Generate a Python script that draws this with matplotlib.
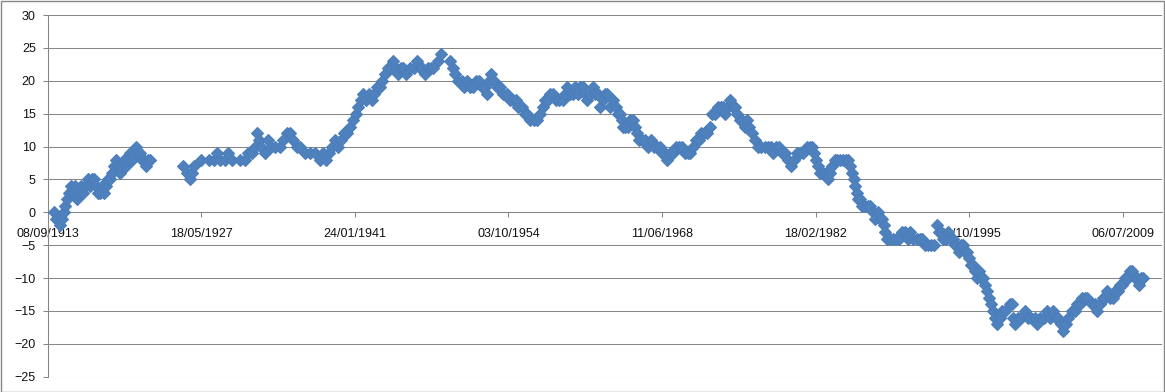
import datetime as dt
import matplotlib
matplotlib.use("Agg")
import matplotlib.pyplot as plt
from matplotlib.patches import Rectangle

# ---- data (decimal year, value) ----
years = [
    1914.26, 1914.43, 1914.61, 1914.79, 1914.97, 1915.15, 1915.24, 1915.42, 1915.59, 1915.77,
    1915.95, 1916.13, 1916.31, 1916.48, 1916.66, 1916.84, 1917.02, 1917.29, 1917.46, 1917.64,
    1917.82, 1918.00, 1918.18, 1918.36, 1918.54, 1918.71, 1918.89, 1919.07, 1919.25, 1919.43,
    1919.60, 1919.78, 1919.96, 1920.14, 1920.32, 1920.50, 1920.67, 1920.85, 1921.03, 1921.21,
    1921.39, 1921.56, 1921.74, 1921.92, 1922.10, 1922.28, 1922.45, 1922.63, 1922.81,
    1925.75, 1926.11, 1926.38, 1926.56, 1926.73, 1927.36, 1928.07, 1928.52, 1928.78, 1929.05,
    1929.50, 1929.77, 1930.12, 1930.83, 1931.28, 1931.55, 1931.90, 1932.17, 1932.35, 1932.52,
    1932.70, 1933.06, 1933.32, 1933.59, 1933.95, 1934.39, 1934.66, 1935.02, 1935.29, 1935.55,
    1935.91, 1936.18, 1936.63, 1937.07, 1937.52, 1937.96, 1938.23, 1938.50, 1938.76, 1939.03,
    1939.30, 1939.57, 1939.84, 1940.10, 1940.37, 1940.64, 1940.90, 1941.17, 1941.35, 1941.62,
    1941.80, 1942.06, 1942.33, 1942.60, 1942.78, 1943.04, 1943.31, 1943.49, 1943.76, 1944.02,
    1944.29, 1944.47, 1944.74, 1944.91, 1945.18, 1945.36, 1945.63, 1945.98, 1946.34, 1946.61,
    1946.87, 1947.05, 1947.32, 1947.59, 1947.86, 1948.04, 1948.48, 1948.75, 1949.55, 1949.82,
    1950.00, 1950.26, 1950.62, 1950.80, 1951.07, 1951.33, 1951.60, 1951.87, 1952.14, 1952.41,
    1952.67, 1952.85, 1953.03, 1953.21, 1953.48, 1953.74, 1954.01, 1954.28, 1954.63, 1954.90,
    1955.17, 1955.44, 1955.61, 1955.97, 1956.24, 1956.42, 1956.68, 1957.04, 1957.31, 1957.57,
    1957.84, 1958.02, 1958.29, 1958.46, 1958.73, 1959.00, 1959.27, 1959.62, 1959.80, 1959.98,
    1960.25, 1960.51, 1960.69, 1960.96, 1961.14, 1961.41, 1961.58, 1961.76, 1962.03, 1962.30,
    1962.47, 1962.74, 1962.92, 1963.19, 1963.37, 1963.54, 1963.81, 1964.08, 1964.35, 1964.52,
    1964.70, 1964.88, 1964.97, 1965.15, 1965.42, 1965.59, 1965.86, 1966.04, 1966.22, 1966.40,
    1966.66, 1966.93, 1967.20, 1967.46, 1967.73, 1968.00, 1968.27, 1968.44, 1968.71, 1968.89,
    1969.16, 1969.43, 1969.69, 1969.96, 1970.23, 1970.50, 1970.76, 1970.94, 1971.21, 1971.48,
    1971.74, 1971.92, 1972.19, 1972.46, 1972.72, 1972.90, 1973.17, 1973.44, 1973.70, 1973.88,
    1974.06, 1974.33, 1974.51, 1974.77, 1974.95, 1975.13, 1975.40, 1975.58, 1975.84, 1976.02,
    1976.20, 1976.47, 1976.73, 1977.00, 1977.27, 1977.63, 1977.89, 1978.16, 1978.34, 1978.61,
    1978.88, 1979.14, 1979.41, 1979.68, 1979.95, 1980.21, 1980.48, 1980.74, 1981.01, 1981.37,
    1981.63, 1981.81, 1981.99, 1982.17, 1982.35, 1982.52, 1982.79, 1983.06, 1983.24, 1983.42,
    1983.60, 1983.86, 1984.04, 1984.31, 1984.58, 1984.84, 1985.02, 1985.20, 1985.38, 1985.55,
    1985.64, 1985.82, 1985.91, 1986.09, 1986.27, 1986.53, 1986.80, 1986.98, 1987.25, 1987.43,
    1987.69, 1987.87, 1988.05, 1988.23, 1988.32, 1988.49, 1988.76, 1989.03, 1989.30, 1989.57,
    1989.83, 1990.10, 1990.37, 1990.55, 1990.81, 1991.17, 1991.44, 1991.61, 1991.88, 1992.15,
    1992.42, 1992.69, 1992.95, 1993.13, 1993.31, 1993.49, 1993.76, 1993.93, 1994.11, 1994.38,
    1994.56, 1994.73, 1994.91, 1995.09, 1995.27, 1995.45, 1995.62, 1995.80, 1995.98, 1996.16,
    1996.34, 1996.51, 1996.69, 1996.87, 1997.05, 1997.23, 1997.41, 1997.58, 1997.76, 1997.94,
    1998.12, 1998.30, 1998.57, 1998.74, 1999.01, 1999.46, 1999.64, 1999.73, 1999.90, 2000.17,
    2000.44, 2000.80, 2001.07, 2001.33, 2001.69, 2001.87, 2002.13, 2002.49, 2002.76, 2003.02,
    2003.29, 2003.56, 2003.74, 2004.01, 2004.19, 2004.45, 2004.63, 2004.99, 2005.25, 2005.43,
    2005.70, 2005.88, 2006.15, 2006.32, 2006.77, 2007.04, 2007.22, 2007.48, 2007.75, 2007.93,
    2008.11, 2008.37, 2008.64, 2008.82, 2009.09, 2009.27, 2009.44, 2009.71, 2009.98, 2010.16,
    2010.34, 2010.61, 2010.78, 2010.96, 2011.14, 2011.32,
]
values = [
    0, -1, -1, -2, -1, 0, 1, 2, 3, 4,
    3, 4, 2, 3, 4, 3, 4, 5, 4, 5,
    5, 4, 3, 3, 4, 3, 4, 5, 5, 6,
    7, 8, 7, 6, 7, 8, 7, 8, 9, 8,
    9, 10, 9, 9, 8, 8, 7, 8, 8,
    7, 6, 5, 6, 7, 8, 8, 8, 9, 8,
    8, 9, 8, 8, 8, 9, 9, 10, 12, 11,
    10, 9, 11, 10, 10, 10, 11, 12, 12, 11,
    10, 10, 9, 9, 9, 8, 9, 8, 9, 10,
    11, 10, 11, 12, 12, 13, 14, 15, 16, 17,
    18, 17, 18, 17, 18, 19, 19, 20, 21, 22,
    22, 23, 22, 21, 22, 22, 21, 22, 22, 23,
    22, 22, 21, 22, 22, 22, 23, 24, 23, 22,
    21, 20, 20, 19, 20, 19, 19, 20, 20, 19,
    19, 18, 20, 21, 20, 19, 19, 18, 18, 17,
    17, 17, 16, 16, 15, 15, 14, 14, 14, 15,
    16, 17, 17, 18, 18, 17, 17, 17, 18, 19,
    18, 18, 19, 18, 19, 19, 18, 17, 18, 19,
    18, 18, 16, 17, 18, 18, 16, 17, 16, 15,
    15, 14, 13, 13, 13, 14, 14, 13, 12, 11,
    11, 11, 10, 11, 10, 10, 10, 9, 9, 8,
    9, 9, 10, 10, 10, 9, 9, 9, 10, 11,
    11, 12, 12, 12, 13, 15, 15, 16, 16, 16,
    15, 16, 17, 16, 16, 15, 14, 14, 13, 14,
    13, 12, 11, 10, 10, 10, 10, 10, 9, 10,
    10, 9, 9, 8, 7, 8, 9, 9, 9, 10,
    10, 10, 9, 8, 7, 6, 6, 6, 5, 6,
    7, 8, 8, 8, 8, 8, 8, 7, 6, 5,
    4, 3, 2, 2, 1, 1, 1, 1, 0, -1,
    0, -1, -1, -2, -3, -4, -4, -4, -4, -4,
    -3, -3, -4, -3, -4, -4, -4, -4, -5, -5,
    -5, -5, -2, -3, -3, -4, -4, -3, -4, -4,
    -5, -5, -6, -5, -5, -6, -6, -7, -8, -8,
    -9, -10, -9, -10, -10, -11, -12, -13, -14, -15,
    -16, -17, -16, -15, -15, -14, -14, -16, -17, -16,
    -16, -15, -16, -16, -16, -17, -16, -16, -15, -16,
    -15, -16, -16, -17, -18, -17, -16, -15, -15, -14,
    -14, -13, -13, -13, -14, -14, -15, -14, -13, -13,
    -12, -13, -13, -12, -12, -11, -11, -10, -10, -9,
    -9, -10, -10, -11, -10, -10,
]
x_tick_labels = ["08/09/1913", "18/05/1927", "24/01/1941", "03/10/1954",
                 "11/06/1968", "18/02/1982", "28/10/1995", "06/07/2009"]
y_ticks = [-25, -20, -15, -10, -5, 0, 5, 10, 15, 20, 25, 30]
x_start = "08/09/1913"
x_end = "01/01/2013"


def year_to_date(y):
    yi = int(y)
    start = dt.datetime(yi, 1, 1)
    end = dt.datetime(yi + 1, 1, 1)
    return start + (end - start) * (y - yi)


def parse(s):
    return dt.datetime.strptime(s, "%d/%m/%Y")


dates = [year_to_date(y) for y in years]

plt.rcParams['font.family'] = ['Liberation Sans', 'DejaVu Sans']
W, H = 1165, 392
fig = plt.figure(figsize=(W / 100, H / 100), dpi=100)
fig.patch.set_facecolor('white')
ax = fig.add_axes([47.6 / W, 1 - 376.7 / H, (1162 - 47.6) / W, (376.7 - 15.0) / H])

grid_c = '#868686'
ax.plot(dates, values, linestyle='none', marker='D', markersize=6.3,
        markerfacecolor='#4F81BD', markeredgecolor='#4A7EBB',
        markeredgewidth=0.8, zorder=3, clip_on=False)

ax.set_xlim(parse(x_start), parse(x_end))
ax.set_ylim(min(y_ticks), max(y_ticks))
ax.set_yticks(y_ticks)
ax.set_xticks([parse(s) for s in x_tick_labels])
ax.set_xticklabels(x_tick_labels)

ax.yaxis.grid(True, color=grid_c, linewidth=0.75)
ax.set_axisbelow(True)
for s in ['top', 'right']:
    ax.spines[s].set_visible(False)
ax.spines['bottom'].set_position(('data', 0))
ax.spines['bottom'].set_color(grid_c)
ax.spines['left'].set_color(grid_c)
ax.spines['bottom'].set_linewidth(0.75)
ax.spines['left'].set_linewidth(0.75)
ax.spines['bottom'].set_zorder(1)
ax.tick_params(axis='y', direction='out', length=3.5, width=0.75, color=grid_c,
               labelsize=9, labelcolor='#111111', pad=5)
ax.tick_params(axis='x', direction='out', length=3.5, width=0.75, color=grid_c,
               labelsize=9, labelcolor='#111111', pad=8)
for lab in ax.get_xticklabels():
    lab.set_zorder(1)

fig.add_artist(Rectangle((0.5 / W, 0.5 / H), 1 - 1.5 / W, 1 - 1.5 / H,
                         transform=fig.transFigure, fill=False,
                         edgecolor=grid_c, linewidth=1.0))

fig.savefig('out.png', dpi=100)
